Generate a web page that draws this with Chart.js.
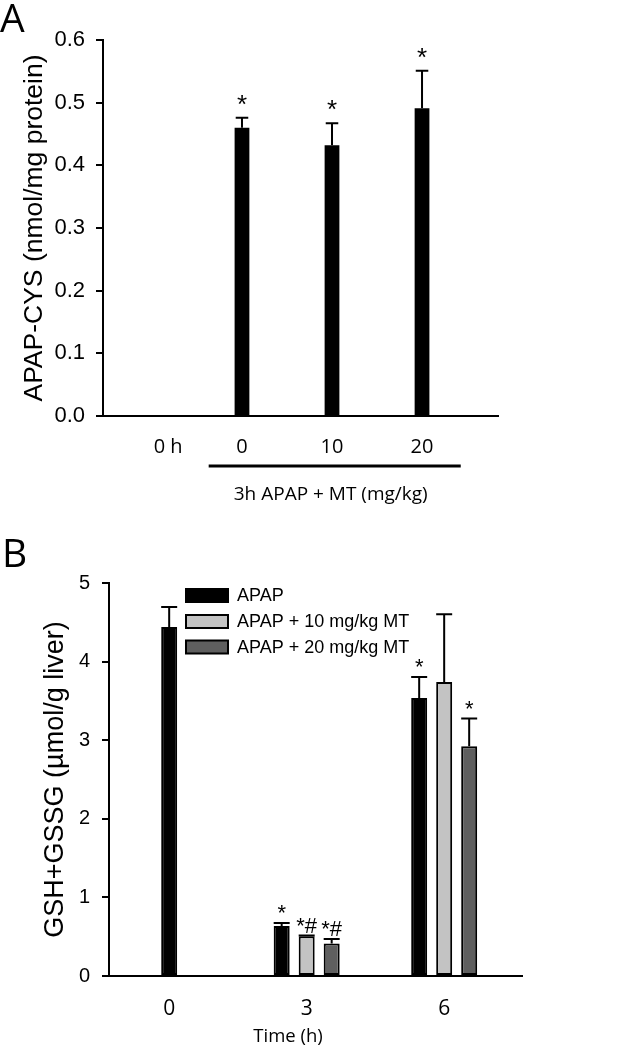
<!DOCTYPE html>
<html>
<head>
<meta charset="utf-8">
<script src="https://cdn.jsdelivr.net/npm/chart.js@4.4.0/dist/chart.umd.min.js"></script>
<style>
  body { margin: 0; background: #fff; }
  #wrap { position: relative; width: 633px; height: 1050px; }
  canvas { position: absolute; left: 0; }
  #chartA { top: 0; }
  #chartB { top: 520px; }
  .panel { position: absolute; font-family: 'Open Sans', sans-serif; font-size: 39px; line-height: 1; color: #000; }
</style>
</head>
<body>
<div id="wrap">
  <canvas id="chartA" width="633" height="520"></canvas>
  <canvas id="chartB" width="633" height="530"></canvas>
  <div class="panel" style="left:0;top:-3px">A</div>
  <div class="panel" style="left:2px;top:532px">B</div>
</div>
<script>
// panel A: APAP-CYS
const catsA = ['0 h', '0', '10', '20'];
const cysMean = [0, 0.460, 0.432, 0.491];
const cysErr = [0, 0.016, 0.035, 0.060];
const cysMarks = ['', '*', '*', '*'];
const groupLabelA = '3h APAP + MT (mg/kg)';

// panel B: GSH+GSSG
const timesB = [0, 3, 6];
const apapMean = [4.44, 0.636, 3.537];
const apapErr = [0.255, 0.038, 0.267];
const apapMarks = ['', '*', '*'];
const mt10Mean = [null, 0.505, 3.741];
const mt10Err = [null, 0.009, 0.861];
const mt10Marks = ['', '*#', ''];
const mt20Mean = [null, 0.412, 2.922];
const mt20Err = [null, 0.059, 0.353];
const mt20Marks = ['', '*#', '*'];

const arial = "'Liberation Sans', Arial, sans-serif";
const calib = "'Open Sans', sans-serif";

// error bars + significance marks drawn over the bars
const errorBars = {
  id: 'errorBars',
  afterDatasetsDraw(chart, args, opts) {
    const ctx = chart.ctx;
    const yScale = chart.scales.y;
    chart.data.datasets.forEach((ds, di) => {
      const meta = chart.getDatasetMeta(di);
      meta.data.forEach((bar, i) => {
        const v = ds.data[i].y;
        const e = ds.errors[i];
        if (v == null || !e) return;
        const top = yScale.getPixelForValue(v + e);
        const half = bar.width * opts.cap / 2;
        ctx.save();
        ctx.strokeStyle = '#000';
        ctx.lineWidth = opts.width;
        ctx.beginPath();
        ctx.moveTo(bar.x, bar.y);
        ctx.lineTo(bar.x, top);
        ctx.moveTo(bar.x - half, top);
        ctx.lineTo(bar.x + half, top);
        ctx.stroke();
        if (ds.marks[i]) {
          ctx.font = opts.font;
          ctx.fillStyle = '#000';
          ctx.textAlign = 'center';
          ctx.textBaseline = 'alphabetic';
          ctx.fillText(ds.marks[i], bar.x, top - opts.gap);
        }
        ctx.restore();
      });
    });
  }
};

const bracketA = {
  id: 'bracketA',
  afterDraw(chart) {
    const ctx = chart.ctx;
    const x = chart.scales.x;
    const left = x.getPixelForValue(0.63);
    const right = x.getPixelForValue(3.43);
    ctx.save();
    ctx.strokeStyle = '#000';
    ctx.lineWidth = 3;
    ctx.beginPath();
    ctx.moveTo(left, 466);
    ctx.lineTo(right, 466);
    ctx.stroke();
    ctx.font = '19px ' + calib;
    ctx.fillStyle = '#000';
    ctx.textAlign = 'center';
    ctx.textBaseline = 'middle';
    ctx.fillText(groupLabelA, (left + right) / 2 - 4, 495);
    ctx.restore();
  }
};

const legendB = {
  id: 'legendB',
  afterDraw(chart) {
    const ctx = chart.ctx;
    const rows = [75.5, 101.5, 127];
    ctx.save();
    chart.data.datasets.forEach((ds, i) => {
      ctx.fillStyle = ds.backgroundColor;
      ctx.fillRect(186, rows[i] - 6.5, 42, 13);
      ctx.strokeStyle = '#000';
      ctx.lineWidth = 2;
      ctx.strokeRect(186, rows[i] - 6.5, 42, 13);
      ctx.fillStyle = '#000';
      ctx.font = '18px ' + arial;
      ctx.textAlign = 'left';
      ctx.textBaseline = 'middle';
      ctx.fillText(ds.label, 237, rows[i] + 1);
    });
    // x axis title
    ctx.font = '18.5px ' + calib;
    ctx.textAlign = 'center';
    ctx.fillText('Time (h)', 288, 517);
    ctx.restore();
  }
};

new Chart(document.getElementById('chartA'), {
  type: 'bar',
  data: {
    datasets: [{
      data: cysMean.map((v, i) => ({ x: i, y: v })),
      errors: cysErr,
      marks: cysMarks,
      backgroundColor: '#000',
      borderWidth: 0,
      barPercentage: 0.2,
      categoryPercentage: 1
    }]
  },
  options: {
    responsive: false,
    animation: false,
    layout: { padding: { top: 40, right: 135, left: 0, bottom: 0 } },
    plugins: {
      legend: { display: false },
      tooltip: { enabled: false },
      errorBars: { cap: 0.85, width: 2, font: '26px ' + arial, gap: 5 }
    },
    scales: {
      x: {
        type: 'linear',
        offset: false,
        min: -0.544,
        max: 3.844,
        afterBuildTicks: s => { s.ticks = catsA.map((c, i) => ({ value: i === 0 ? 0.18 : i })); },
        afterFit: s => { s.height = 104; },
        grid: { display: false },
        border: { color: '#000', width: 2 },
        ticks: {
          autoSkip: false, maxRotation: 0, padding: 11, color: '#000',
          font: { family: calib, size: 20 },
          callback: (v, i) => catsA[i]
        }
      },
      y: {
        min: 0,
        max: 0.6,
        afterFit: s => { s.width = 103; },
        grid: { drawOnChartArea: false, tickLength: 7, color: '#000', lineWidth: 2 },
        border: { color: '#000', width: 2 },
        ticks: {
          stepSize: 0.1, padding: 11, color: '#000',
          font: { family: arial, size: 22 },
          callback: v => v.toFixed(1)
        },
        title: {
          display: true, text: 'APAP-CYS (nmol/mg protein)', color: '#000',
          font: { family: arial, size: 26.5 }, padding: { top: 19, bottom: 0 }
        }
      }
    }
  },
  plugins: [errorBars, bracketA]
});

function seriesB(label, means, errs, marks, color) {
  return {
    label: label,
    data: means.map((v, i) => ({ x: timesB[i], y: v })),
    errors: errs,
    marks: marks,
    backgroundColor: color,
    borderColor: '#000',
    borderWidth: 2,
    borderSkipped: false,
    skipNull: true,
    categoryPercentage: 0.5455,
    barPercentage: 0.64,
    maxBarThickness: 16
  };
}

new Chart(document.getElementById('chartB'), {
  type: 'bar',
  data: {
    datasets: [
      seriesB('APAP', apapMean, apapErr, apapMarks, '#000000'),
      seriesB('APAP + 10 mg/kg MT', mt10Mean, mt10Err, mt10Marks, '#c3c3c3'),
      seriesB('APAP + 20 mg/kg MT', mt20Mean, mt20Err, mt20Marks, '#5f5f5f')
    ]
  },
  options: {
    responsive: false,
    animation: false,
    layout: { padding: { top: 63, right: 111, left: 0, bottom: 0 } },
    plugins: {
      legend: { display: false },
      tooltip: { enabled: false },
      errorBars: { cap: 1, width: 2, font: '22px ' + arial, gap: 3 }
    },
    scales: {
      x: {
        type: 'linear',
        offset: false,
        min: -1.313,
        max: 7.698,
        afterBuildTicks: s => { s.ticks = timesB.map(t => ({ value: t })); },
        afterFit: s => { s.height = 74; },
        grid: { display: false },
        border: { color: '#000', width: 2 },
        ticks: {
          autoSkip: false, maxRotation: 0, padding: 12, color: '#000',
          font: { family: calib, size: 21 },
          callback: v => String(v)
        }
      },
      y: {
        min: 0,
        max: 5,
        afterFit: s => { s.width = 109; },
        grid: { drawOnChartArea: false, tickLength: 7, color: '#000', lineWidth: 2 },
        border: { color: '#000', width: 2 },
        ticks: {
          stepSize: 1, padding: 12, color: '#000',
          font: { family: arial, size: 20 }
        },
        title: {
          display: true, text: 'GSH+GSSG (µmol/g liver)', color: '#000',
          font: { family: arial, size: 27 }, padding: { top: 39, bottom: 0 }
        }
      }
    }
  },
  plugins: [errorBars, legendB]
});
</script>
</body>
</html>
